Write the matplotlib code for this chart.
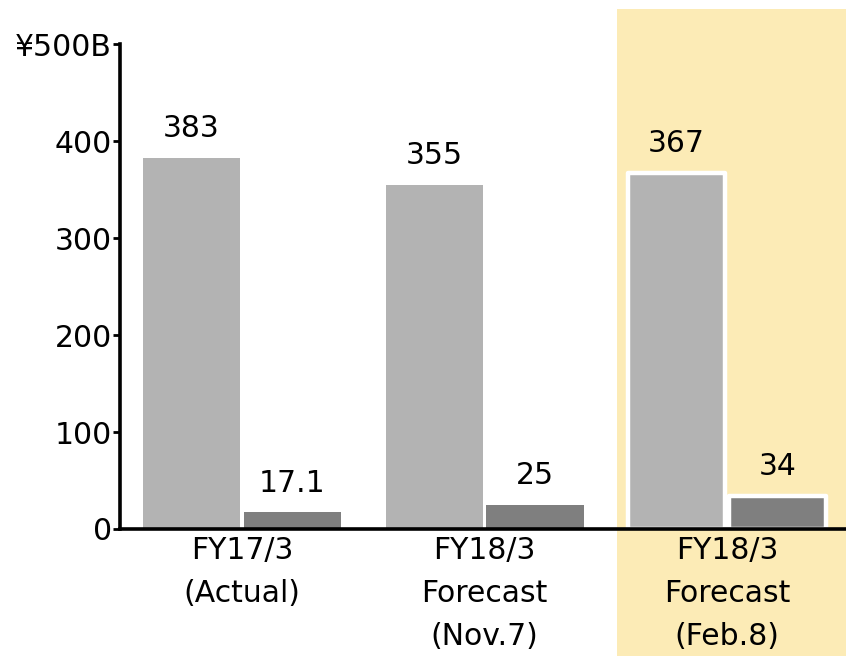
import matplotlib
matplotlib.use("Agg")
import matplotlib.pyplot as plt
from matplotlib.patches import Rectangle
from matplotlib import transforms
import numpy as np

plt.rcParams['font.family'] = ['DejaVu Sans']

# Data
categories = ["FY17/3\n(Actual)", "FY18/3\nForecast\n(Nov.7)", "FY18/3\nForecast\n(Feb.8)"]
light_values = [383, 355, 367]
dark_values = [17.1, 25, 34]
light_labels = ["383", "355", "367"]
dark_labels = ["17.1", "25", "34"]
y_ticks = [0, 100, 200, 300, 400, 500]
y_tick_labels = ["0", "100", "200", "300", "400", "¥500B"]

LIGHT = "#b3b3b3"
DARK = "#7f7f7f"
HIGHLIGHT = "#fcebb6"

fig = plt.figure(figsize=(8.46, 6.56), dpi=100)
ax = fig.add_axes([0.1418, 0.1936, 0.8582, 0.7393])
ax.patch.set_visible(False)

x = np.arange(len(categories))
width = 0.40
offset = 0.208

# Highlight band behind the latest forecast
trans = transforms.blended_transform_factory(ax.transData, fig.transFigure)
band = Rectangle((1.546, 0.0), 1.5, 0.986, transform=trans, facecolor=HIGHLIGHT,
                 edgecolor="none", clip_on=False, zorder=0)
ax.add_patch(band)

for i in range(len(categories)):
    hl = (i == len(categories) - 1)
    ec = "white" if hl else "none"
    lw = 3.2 if hl else 0
    ax.bar(x[i] - offset, light_values[i], width, color=LIGHT, edgecolor=ec,
           linewidth=lw, joinstyle="round", zorder=2)
    ax.bar(x[i] + offset, dark_values[i], width, color=DARK, edgecolor=ec,
           linewidth=lw, joinstyle="round", zorder=2)
    ax.annotate(light_labels[i], (x[i] - offset, light_values[i]), xytext=(0, 15),
                textcoords="offset points", ha="center", va="baseline", fontsize=21.5)
    ax.annotate(dark_labels[i], (x[i] + offset, dark_values[i]), xytext=(0, 15),
                textcoords="offset points", ha="center", va="baseline", fontsize=21.5)

ax.set_xlim(-0.503, 2.49)
ax.set_ylim(0, 500)
ax.set_yticks(y_ticks)
ax.set_yticklabels(y_tick_labels, fontsize=21.5)
ax.set_xticks(x)
ax.set_xticklabels(categories, fontsize=21.5, linespacing=1.6)

ax.tick_params(axis="y", length=5, width=2, pad=1, direction="out")
ax.tick_params(axis="x", length=0, pad=5)

for side in ["top", "right"]:
    ax.spines[side].set_visible(False)
for side in ["left", "bottom"]:
    ax.spines[side].set_linewidth(2.6)
    ax.spines[side].set_zorder(3)

fig.savefig("out.png", dpi=100)
